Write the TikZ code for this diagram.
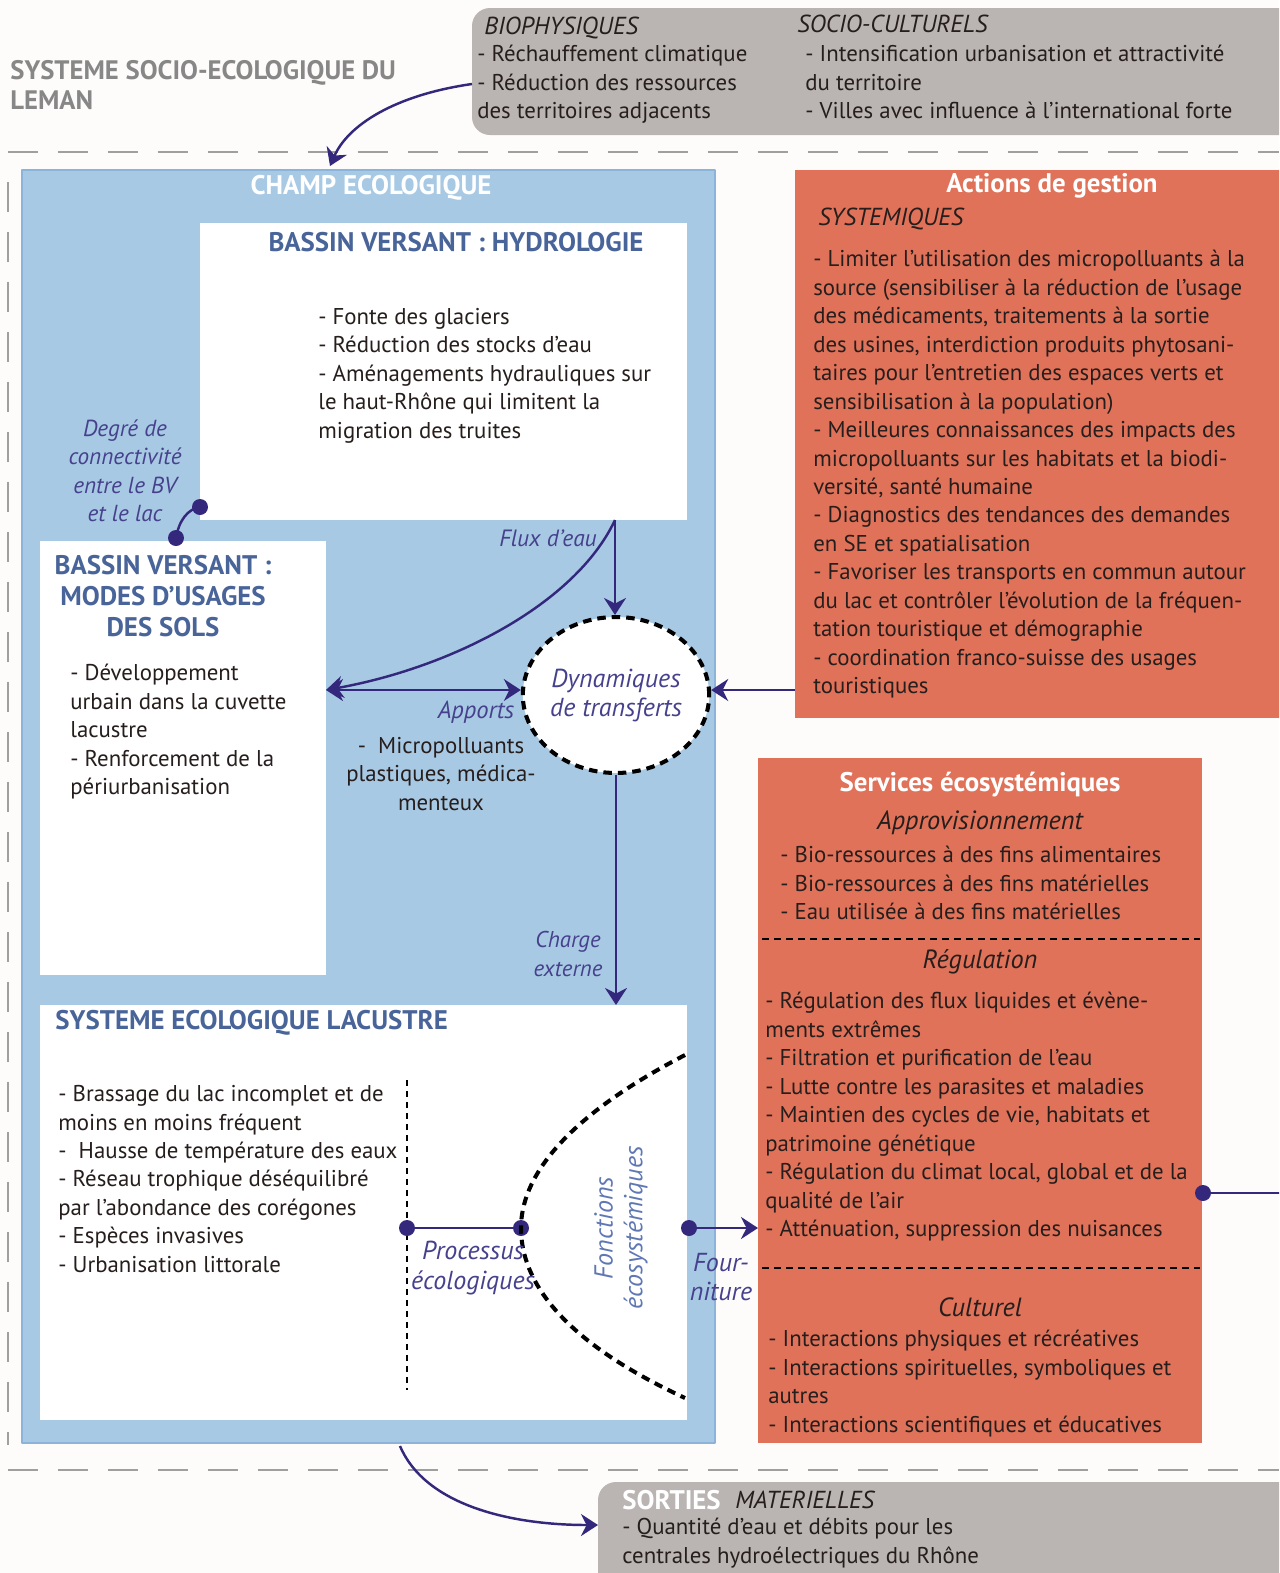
\documentclass[tikz,border=0pt]{standalone}
\usepackage{fontspec}
\setmainfont{PT Sans}
\usetikzlibrary{arrows.meta,shapes.geometric,fit}
\newcommand\bodyfont{\fontsize{13}{16.2}\selectfont}
\newcommand\labfont{\fontsize{14}{16.2}\selectfont\itshape}
\newcommand\headfont{\fontsize{15.3}{17.6}\selectfont\bfseries}
\newcommand\titlefont{\fontsize{15.2}{17}\selectfont\bfseries}

\begin{document}
\begin{tikzpicture}[x=0.02cm, y=-0.02cm, line join=round,
  txt/.style={inner sep=0pt, anchor=north west, align=left, font=\bodyfont, text=ink},
  ctxt/.style={inner sep=0pt, align=center, font=\bodyfont, text=ink},
  lab/.style={inner sep=0pt, align=center, font=\labfont, text=labblue},
  boxhead/.style={inner sep=0pt, font=\headfont, text=titleblue},
  panel/.style={inner sep=0pt, outer sep=0pt},
  conn/.style={draw=linkpurple, line width=1.4pt},
  arr/.style={-{Stealth[length=0.34cm,width=0.44cm]}},
  linkdot/.style={circle, fill=linkpurple, inner sep=0pt, minimum size=0.32cm},
  limit/.style={draw=gray!75, line width=1.2pt, dash pattern=on 0.6cm off 0.4cm},
  bigdash/.style={draw=black, line width=2.3pt, dash pattern=on 0.17cm off 0.12cm},
  ]
  \definecolor{paper}{RGB}{253,252,250}
  \definecolor{boxgray}{RGB}{186,181,179}
  \definecolor{champblue}{RGB}{168,201,228}
  \definecolor{champedge}{RGB}{140,180,218}
  \definecolor{orangebox}{RGB}{224,114,90}
  \definecolor{ink}{RGB}{38,30,28}
  \definecolor{titleblue}{RGB}{72,100,152}
  \definecolor{titlegray}{RGB}{135,135,135}
  \definecolor{linkpurple}{RGB}{52,40,125}
  \definecolor{labblue}{RGB}{70,65,140}
  \definecolor{fonctblue}{RGB}{95,120,180}

  \useasboundingbox (0,0) rectangle (1279,1573);
  \clip (0,0) rectangle (1279,1573);
  \fill[paper] (0,0) rectangle (1279,1573);

  % system limits
  \draw[limit] (8,152) -- (1279,152);
  \draw[limit] (8,182) -- (8,1445);
  \draw[limit] (8,1470) -- (1279,1470);
  \node[txt, font=\titlefont, text=titlegray] (sys) at (10,60) {SYSTEME SOCIO-ECOLOGIQUE DU\\LEMAN};

  % drivers
  \node[panel, fit={(472,8) (1310,135)}, rounded corners=0.36cm, fill=boxgray] (drivers) {};
  \node[txt, font=\labfont] (bio) at (484,17) {BIOPHYSIQUES};
  \node[txt] (biolist) at (477,45) {- Réchauffement climatique\\- Réduction des ressources\\des territoires adjacents};
  \node[txt, font=\labfont] (soc) at (797,15) {SOCIO-CULTURELS};
  \node[txt] (soclist) at (805,45) {- Intensification urbanisation et attractivité\\du territoire\\- Villes avec influence à l’international forte};

  % champ ecologique
  \node[panel, fit={(22,170) (715,1443)}, fill=champblue, draw=champedge, line width=1pt] (champ) {};
  \node[boxhead, text=white] at (371,188) {CHAMP ECOLOGIQUE};

  \node[panel, fit={(200,223) (687,520)}, fill=white] (hydro) {};
  \node[boxhead] at (456,242) {BASSIN VERSANT : HYDROLOGIE};
  \node[txt] (hydrolist) at (318,308) {- Fonte des glaciers\\- Réduction des stocks d’eau\\- Aménagements hydrauliques sur\\le haut-Rhône qui limitent la\\migration des truites};

  \node[panel, fit={(40,541) (326,975)}, fill=white] (usage) {};
  \node[boxhead, align=center, anchor=north] at (163,555) {BASSIN VERSANT :\\MODES D’USAGES\\DES SOLS};
  \node[txt] (usagelist) at (70,664) {- Développement\\urbain dans la cuvette\\lacustre\\- Renforcement de la\\périurbanisation};

  \node[lab, font=\fontsize{13.2}{16.2}\selectfont\itshape] (degre) at (125,471) {Degré de\\connectivité\\entre le BV\\et le lac};
  \node[linkdot] (cU) at (200,507) {};
  \node[linkdot] (cL) at (176,538) {};
  \draw[conn] (cL.center) .. controls (179,520) and (188,509) .. (cU.center);

  % transferts
  \node[ellipse, draw=black, fill=white, line width=2.3pt, dash pattern=on 0.17cm off 0.12cm,
    minimum width=3.52cm, minimum height=3.12cm, inner sep=0pt, align=center,
    font=\fontsize{14.8}{16.5}\selectfont\itshape, text=labblue] (dyn) at (616,695) {Dynamiques\\de transferts};
  \coordinate (fluxsrc) at (615,520);
  \draw[conn, arr] (fluxsrc) -- (fluxsrc |- dyn.north);
  \draw[conn, arr] (fluxsrc) .. controls (575,605) and (450,668) .. (usage.east |- 0,690);
  \draw[conn, {Stealth[length=0.34cm,width=0.44cm]}-{Stealth[length=0.34cm,width=0.44cm]}] (usage.east |- 0,690) -- (dyn.west |- 0,690);
  \node[lab, font=\fontsize{13.4}{16.2}\selectfont\itshape] at (548,538) {Flux d’eau};
  \node[lab] at (476,712) {Apports};
  \node[ctxt] (micro) at (441,774) {-~~Micropolluants\\plastiques, médica-\\menteux};

  % lac
  \node[panel, fit={(40,1005) (687,1420)}, fill=white] (lake) {};
  \node[boxhead, anchor=west] at (55,1023) {SYSTEME ECOLOGIQUE LACUSTRE};
  \node[txt] (lakelist) at (58,1085) {- Brassage du lac incomplet et de\\moins en moins fréquent\\-~~Hausse de température des eaux\\- Réseau trophique déséquilibré\\par l'abondance des corégones\\- Espèces invasives\\- Urbanisation littorale};
  \draw[black, line width=0.9pt, dash pattern=on 0.12cm off 0.1cm] (407,1080) -- (407,1390);
  \draw[conn, arr] (dyn.south) -- (dyn.south |- lake.north);
  \node[lab, font=\fontsize{13}{16}\selectfont\itshape] at (568,954) {Charge\\externe};

  \node[linkdot] (pA) at (407,1228) {};
  \node[linkdot] (pB) at (521,1228) {};
  \draw[conn] (pA) -- (pB);
  \draw[bigdash] (685,1055) .. controls (560,1120) and (521,1180) .. (521,1228)
    .. controls (521,1280) and (560,1340) .. (685,1398);
  \node[lab, font=\fontsize{14.8}{17.6}\selectfont\itshape] at (473,1268) {Processus\\écologiques};
  \node[lab, font=\fontsize{14.8}{17}\selectfont\itshape, text=fonctblue, rotate=90] at (621,1228) {Fonctions\\écosystémiques};

  % actions de gestion
  \node[panel, fit={(795,170) (1310,718)}, fill=orangebox] (actions) {};
  \node[boxhead, text=white] at (1052,186) {Actions de gestion};
  \node[txt, font=\labfont] at (818,208) {SYSTEMIQUES};
  \node[txt] (actlist) at (813,250) {- Limiter l’utilisation des micropolluants à la\\source (sensibiliser à la réduction de l’usage\\des médicaments, traitements à la sortie\\des usines, interdiction produits phytosani-\\taires pour l’entretien des espaces verts et\\sensibilisation à la population)\\- Meilleures connaissances des impacts des\\micropolluants sur les habitats et la biodi-\\versité, santé humaine\\- Diagnostics des tendances des demandes\\en SE et spatialisation\\- Favoriser les transports en commun autour\\du lac et contrôler l’évolution de la fréquen-\\tation touristique et démographie\\- coordination franco-suisse des usages\\touristiques};
  \draw[conn, arr] (actions.west |- 0,690) -- (dyn.east |- 0,690);

  % services ecosystemiques
  \node[panel, fit={(758,758) (1202,1443)}, fill=orangebox] (services) {};
  \node[boxhead, text=white] at (980,785) {Services écosystémiques};
  \node[lab, font=\fontsize{15}{17}\selectfont\itshape, text=ink] at (980,823) {Approvisionnement};
  \node[txt] (approlist) at (780,846) {- Bio-ressources à des fins alimentaires\\- Bio-ressources à des fins matérielles\\- Eau utilisée à des fins matérielles};
  \draw[black, line width=1.1pt, dash pattern=on 0.14cm off 0.1cm] (762,939) -- (1200,939);
  \node[lab, font=\fontsize{15}{17}\selectfont\itshape, text=ink] at (980,962) {Régulation};
  \node[txt] (reglist) at (765,992) {- Régulation des flux liquides et évène-\\ments extrêmes\\- Filtration et purification de l’eau\\- Lutte contre les parasites et maladies\\- Maintien des cycles de vie, habitats et\\patrimoine génétique\\- Régulation du climat local, global et de la\\qualité de l’air\\- Atténuation, suppression des nuisances};
  \draw[black, line width=1.1pt, dash pattern=on 0.14cm off 0.1cm] (762,1268) -- (1200,1268);
  \node[lab, font=\fontsize{15}{17}\selectfont\itshape, text=ink] at (980,1307) {Culturel};
  \node[txt] (cultlist) at (768,1330) {- Interactions physiques et récréatives\\- Interactions spirituelles, symboliques et\\autres\\- Interactions scientifiques et éducatives};

  \node[linkdot] (fA) at (689,1228) {};
  \draw[conn, arr] (fA) -- (services.west |- fA);
  \node[lab, font=\fontsize{14.8}{17}\selectfont\itshape] at (721,1277) {Four-\\niture};
  \node[linkdot] (sD) at (1203,1193) {};
  \coordinate (sOut) at (1290,1193);
  \draw[conn] (sD) -- (sOut);

  % sorties
  \node[panel, fit={(598,1482) (1310,1610)}, rounded corners=0.36cm, fill=boxgray] (sorties) {};
  \node[inner sep=0pt, anchor=west, font=\headfont, text=white] at (622,1500) {SORTIES};
  \node[inner sep=0pt, anchor=west, font=\labfont, text=ink] at (735,1500) {MATERIELLES};
  \node[txt] (sortlist) at (622,1518) {- Quantité d'eau et débits pour les\\centrales hydroélectriques du Rhône};

  % connections to the outside
  \coordinate (bioOut) at (472,84);
  \coordinate (champIn) at (330,166);
  \draw[conn, arr] (bioOut) .. controls (395,95) and (348,125) .. (champIn);
  \coordinate (champOut) at (400,1446);
  \coordinate (sortIn) at (598,1525);
  \draw[conn, arr] (champOut) .. controls (425,1505) and (510,1525) .. (sortIn);
\end{tikzpicture}
\end{document}
